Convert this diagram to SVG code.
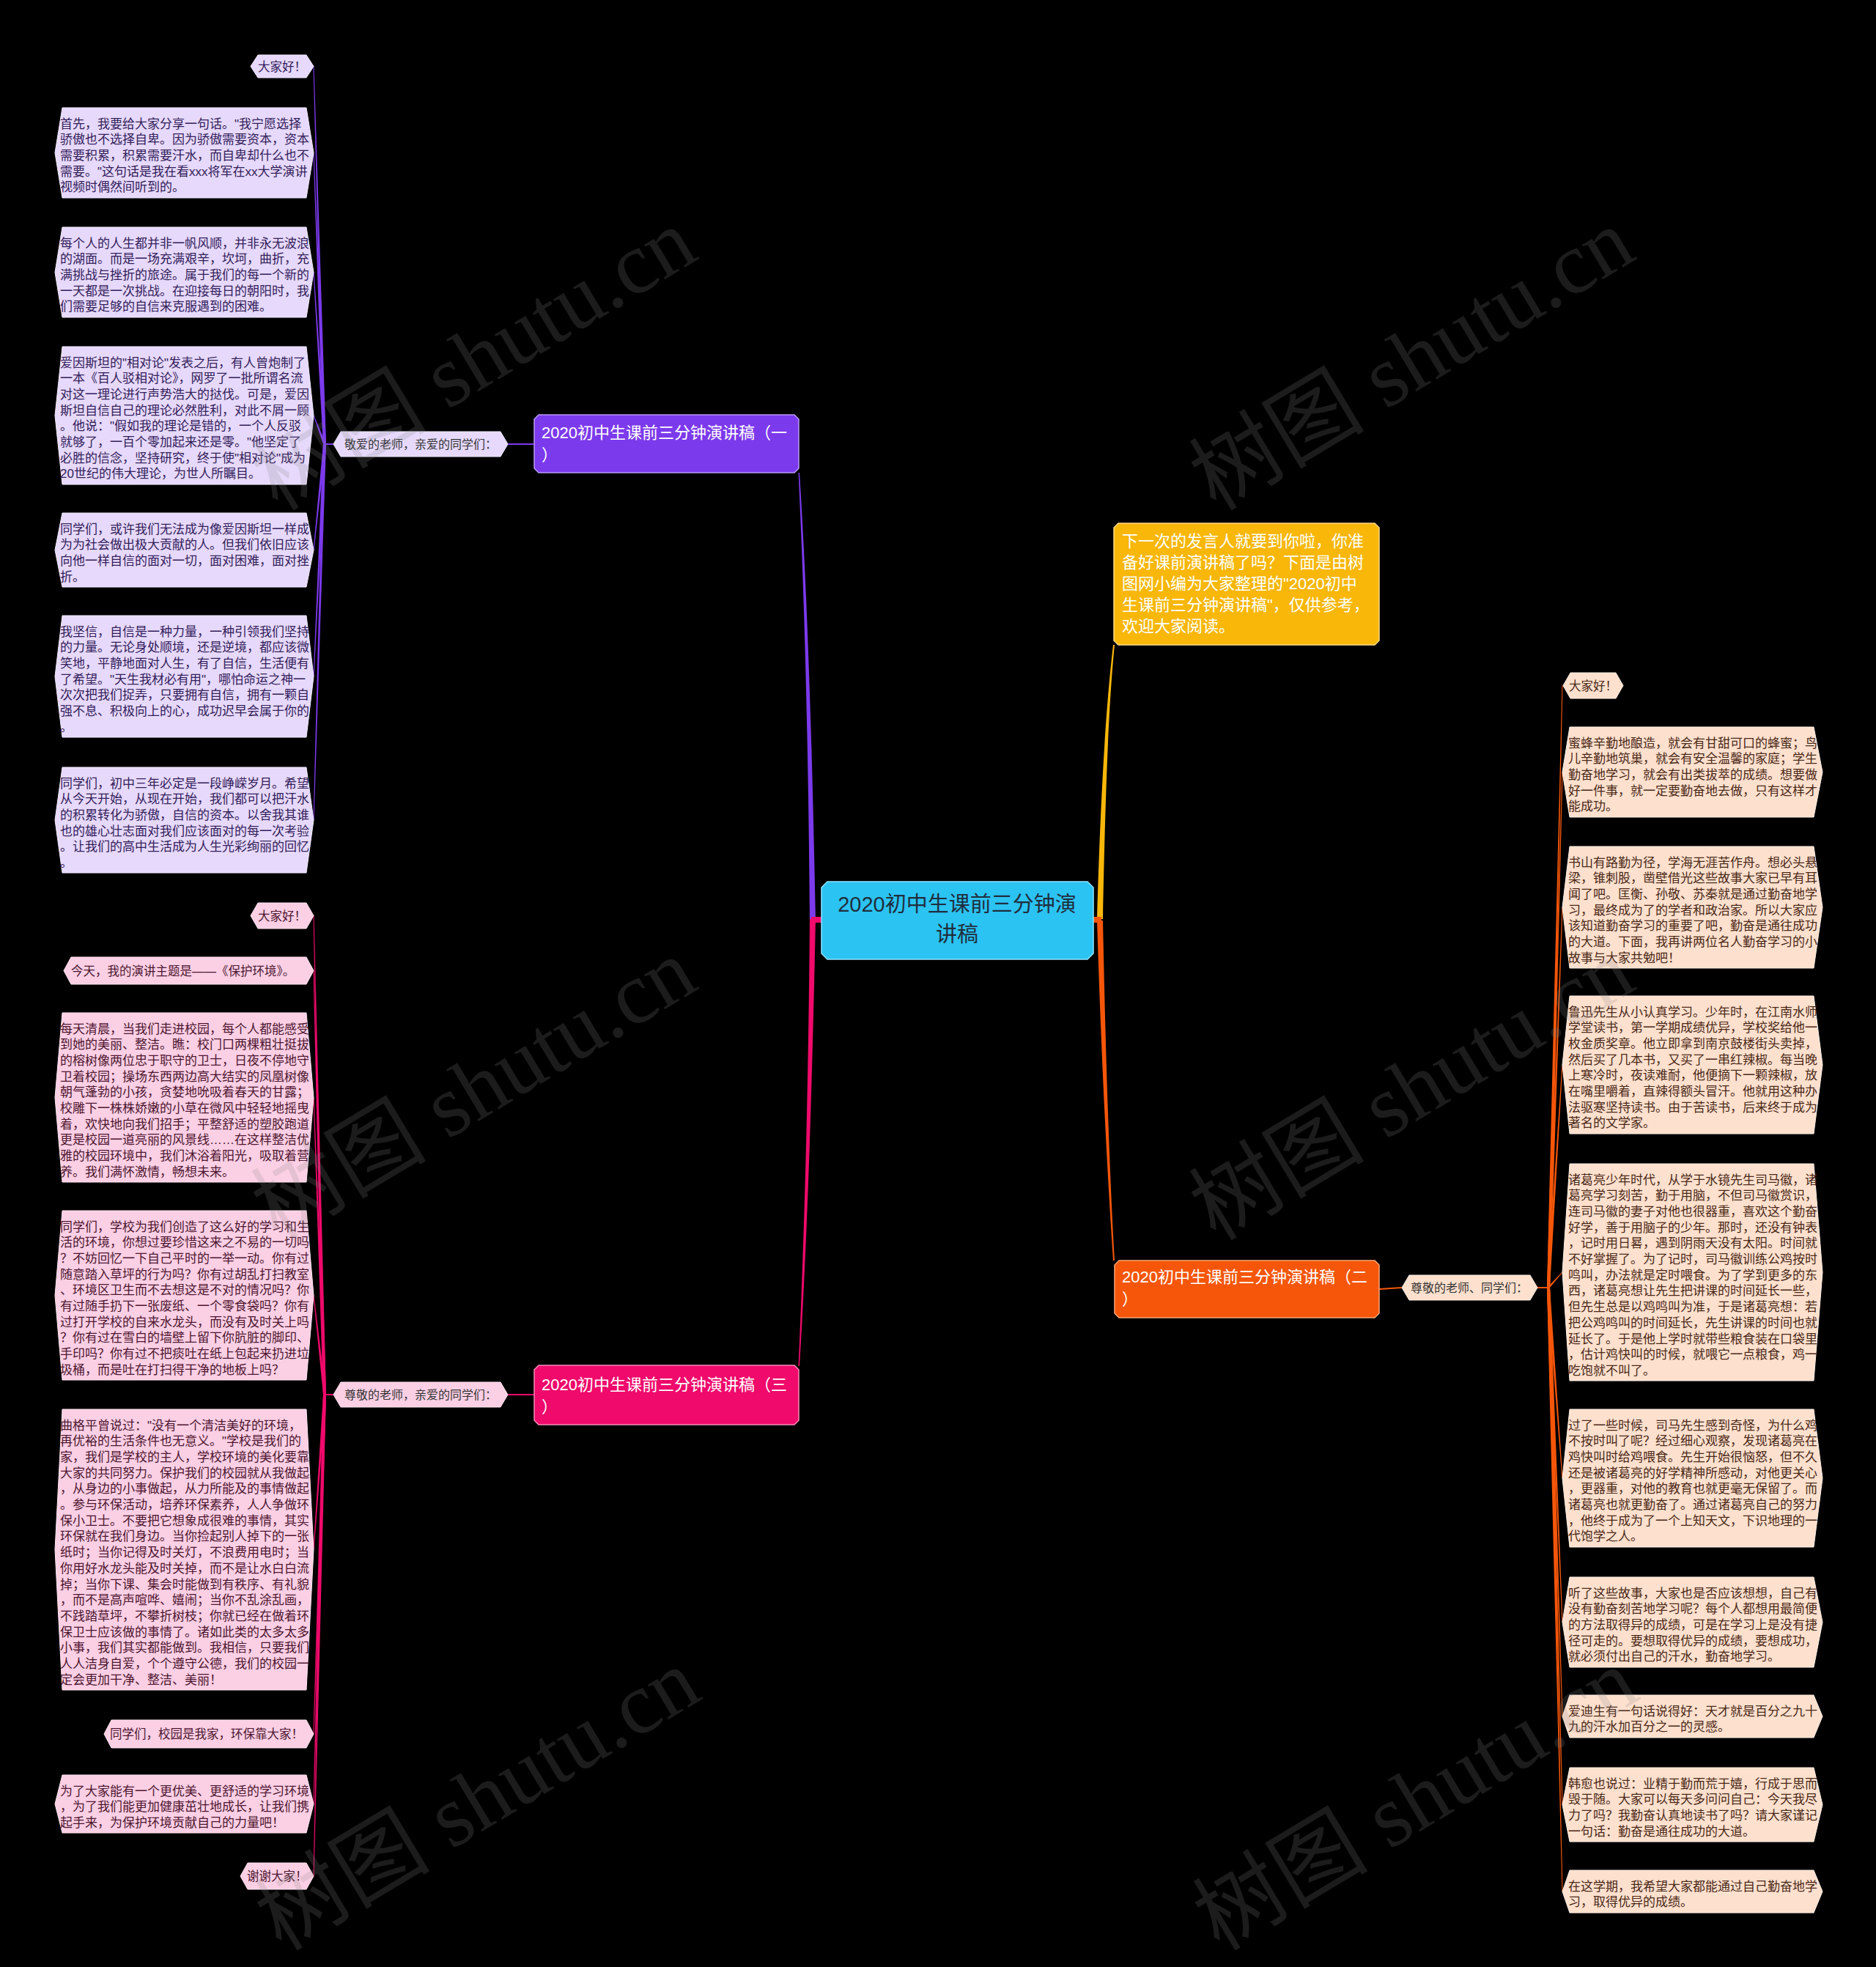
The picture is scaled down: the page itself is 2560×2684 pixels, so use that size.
<svg xmlns="http://www.w3.org/2000/svg" width="2560" height="2684" viewBox="0 0 2560 2684">
<style>
.tx{font-family:"Liberation Sans","Noto Sans CJK SC",sans-serif}
.lt{font-size:17px}
.ls{font-size:16.5px}
.c1{fill:#33205a}.c3{fill:#4d1630}.c2{fill:#4a2818}
.f1{fill:#e6d9fb;stroke:#f3ecff;stroke-width:1}
.f3{fill:#fbcfe4;stroke:#ffe6f1;stroke-width:1}
.f2{fill:#fde0cd;stroke:#fff0e6;stroke-width:1}
.wm{font-family:"Liberation Serif","Noto Sans CJK SC",serif;font-size:120px;fill:#8a8a8a;opacity:0.2}
.wt{fill:#ffffff;font-size:22px}
.sub{font-size:16px;fill:#333333}
</style>
<rect x="0" y="0" width="2560" height="2684" fill="#000000"/>

<g id="connectors">
<path d="M1105,1256 C1103,1000 1097,800 1089.5,645 L1091,645 C1101,800 1108,1000 1113,1256 Z" fill="#7c3aed"/>
<path d="M1105,1254 C1103,1500 1097,1700 1089.5,1864 L1091,1864 C1101,1700 1108,1500 1113,1254 Z" fill="#ef0a6b"/>
<path d="M1497,1254 C1503,1050 1511,950 1519,880 L1521,880 C1514,950 1509,1050 1505,1254 Z" fill="#f8b709"/>
<path d="M1497,1256 C1503,1450 1511,1600 1519,1720 L1521,1720 C1514,1600 1509,1450 1505,1256 Z" fill="#f5560a"/>
<rect x="1107" y="1251" width="15" height="8" fill="#ef0a6b"/>
<rect x="1491" y="1251" width="12" height="8" fill="#f5560a"/>
<line x1="693" y1="606" x2="729" y2="606" stroke="#7c3aed" stroke-width="2"/>
<line x1="693" y1="1903" x2="729" y2="1903" stroke="#ef0a6b" stroke-width="2"/>
<line x1="1882" y1="1759" x2="1913" y2="1757" stroke="#f5560a" stroke-width="2"/>
<g fill="#7c3aed">
<rect x="441" y="605" width="15" height="2"/>
<path d="M441,606 L427.5,90.5 L428.5,90.5 L445,606 Z"/>
<path d="M441,606 L427.5,208.5 L428.5,208.5 L445,606 Z"/>
<path d="M441,606 L427.5,371.5 L428.5,371.5 L445,606 Z"/>
<path d="M441,606 L427.5,567 L428.5,567 L445,606 Z"/>
<path d="M441,606 L427.5,750.5 L428.5,750.5 L445,606 Z"/>
<path d="M441,606 L427.5,923 L428.5,923 L445,606 Z"/>
<path d="M441,606 L427.5,1119 L428.5,1119 L445,606 Z"/>
</g>
<g fill="#ef0a6b">
<rect x="441" y="1902" width="15" height="2"/>
<path d="M441,1903 L427.5,1249.5 L428.5,1249.5 L445,1903 Z"/>
<path d="M441,1903 L427.5,1324.5 L428.5,1324.5 L445,1903 Z"/>
<path d="M441,1903 L427.5,1497.5 L428.5,1497.5 L445,1903 Z"/>
<path d="M441,1903 L427.5,1767.5 L428.5,1767.5 L445,1903 Z"/>
<path d="M441,1903 L427.5,2114.5 L428.5,2114.5 L445,1903 Z"/>
<path d="M441,1903 L427.5,2366 L428.5,2366 L445,1903 Z"/>
<path d="M441,1903 L427.5,2461.5 L428.5,2461.5 L445,1903 Z"/>
<path d="M441,1903 L427.5,2560 L428.5,2560 L445,1903 Z"/>
</g>
<g fill="#f5560a">
<rect x="2097" y="1756" width="17" height="2"/>
<path d="M2111,1757 L2131.5,935.5 L2132.5,935.5 L2115,1757 Z"/>
<path d="M2111,1757 L2131.5,1053.5 L2132.5,1053.5 L2115,1757 Z"/>
<path d="M2111,1757 L2131.5,1238 L2132.5,1238 L2115,1757 Z"/>
<path d="M2111,1757 L2131.5,1453 L2132.5,1453 L2115,1757 Z"/>
<path d="M2111,1757 L2131.5,1736 L2132.5,1736 L2115,1757 Z"/>
<path d="M2111,1757 L2131.5,2017 L2132.5,2017 L2115,1757 Z"/>
<path d="M2111,1757 L2131.5,2213.5 L2132.5,2213.5 L2115,1757 Z"/>
<path d="M2111,1757 L2131.5,2342 L2132.5,2342 L2115,1757 Z"/>
<path d="M2111,1757 L2131.5,2462.5 L2132.5,2462.5 L2115,1757 Z"/>
<path d="M2111,1757 L2131.5,2581 L2132.5,2581 L2115,1757 Z"/>
</g>
</g>

<g id="center">
<polygon points="1129,1203 1484,1203 1492,1211 1492,1301 1484,1309 1129,1309 1121,1301 1121,1211" fill="#2bc3f2" stroke="#8fe3ff" stroke-width="1.5"/>
<text class="tx" x="1306" y="1244" font-size="29" fill="#1f2d3d" text-anchor="middle">2020初中生课前三分钟演</text>
<text class="tx" x="1306" y="1285" font-size="29" fill="#1f2d3d" text-anchor="middle">讲稿</text>
</g>

<g id="intro">
<polygon points="1526,714 1876,714 1882,720 1882,874 1876,880 1526,880 1520,874 1520,720" fill="#f8b709" stroke="#ffd98a" stroke-width="1.5"/>
<text class="tx wt" x="1531" y="746"><tspan x="1531">下一次的发言人就要到你啦，你准</tspan><tspan x="1531" dy="29">备好课前演讲稿了吗？下面是由树</tspan><tspan x="1531" dy="29">图网小编为大家整理的"2020初中</tspan><tspan x="1531" dy="29">生课前三分钟演讲稿"，仅供参考，</tspan><tspan x="1531" dy="29">欢迎大家阅读。</tspan></text>
</g>

<g id="branch1">
<polygon points="735,566 1084,566 1090,572 1090,639 1084,645 735,645 729,639 729,572" fill="#7c3aed" stroke="#b99af5" stroke-width="1.5"/>
<text class="tx wt" x="739" y="598"><tspan x="739">2020初中生课前三分钟演讲稿（一</tspan><tspan x="739" dy="30">）</tspan></text>
</g>
<g id="branch1-sub">
<polygon points="455,606 465,589 683,589 693,606 683,623 465,623" class="f1"/>
<text class="tx sub" x="470" y="612">敬爱的老师，亲爱的同学们：</text>
</g>
<g id="b1-leaf1">
<polygon points="342,90.5 352,75 418,75 428,90.5 418,106 352,106" class="f1"/>
<text class="tx ls c1" x="352" y="96.5">大家好！</text>
</g>
<g id="b1-leaf2">
<polygon points="75,208.5 85,147 418,147 428,208.5 418,270 85,270" class="f1"/>
<text class="tx lt c1" y="174.5"><tspan x="82">首先，我要给大家分享一句话。"我宁愿选择</tspan><tspan x="82" dy="21.7">骄傲也不选择自卑。因为骄傲需要资本，资本</tspan><tspan x="82" dy="21.7">需要积累，积累需要汗水，而自卑却什么也不</tspan><tspan x="82" dy="21.7">需要。"这句话是我在看xxx将军在xx大学演讲</tspan><tspan x="82" dy="21.7">视频时偶然间听到的。</tspan></text>
</g>
<g id="b1-leaf3">
<polygon points="75,371.5 85,310 418,310 428,371.5 418,433 85,433" class="f1"/>
<text class="tx lt c1" y="337.5"><tspan x="82">每个人的人生都并非一帆风顺，并非永无波浪</tspan><tspan x="82" dy="21.7">的湖面。而是一场充满艰辛，坎坷，曲折，充</tspan><tspan x="82" dy="21.7">满挑战与挫折的旅途。属于我们的每一个新的</tspan><tspan x="82" dy="21.7">一天都是一次挑战。在迎接每日的朝阳时，我</tspan><tspan x="82" dy="21.7">们需要足够的自信来克服遇到的困难。</tspan></text>
</g>
<g id="b1-leaf4">
<polygon points="75,567 85,473 418,473 428,567 418,661 85,661" class="f1"/>
<text class="tx lt c1" y="500.5"><tspan x="82">爱因斯坦的"相对论"发表之后，有人曾炮制了</tspan><tspan x="82" dy="21.7">一本《百人驳相对论》，网罗了一批所谓名流</tspan><tspan x="82" dy="21.7">对这一理论进行声势浩大的挞伐。可是，爱因</tspan><tspan x="82" dy="21.7">斯坦自信自己的理论必然胜利，对此不屑一顾</tspan><tspan x="82" dy="21.7">。他说："假如我的理论是错的，一个人反驳</tspan><tspan x="82" dy="21.7">就够了，一百个零加起来还是零。"他坚定了</tspan><tspan x="82" dy="21.7">必胜的信念，坚持研究，终于使"相对论"成为</tspan><tspan x="82" dy="21.7">20世纪的伟大理论，为世人所瞩目。</tspan></text>
</g>
<g id="b1-leaf5">
<polygon points="75,750.5 85,700 418,700 428,750.5 418,801 85,801" class="f1"/>
<text class="tx lt c1" y="727.5"><tspan x="82">同学们，或许我们无法成为像爱因斯坦一样成</tspan><tspan x="82" dy="21.7">为为社会做出极大贡献的人。但我们依旧应该</tspan><tspan x="82" dy="21.7">向他一样自信的面对一切，面对困难，面对挫</tspan><tspan x="82" dy="21.7">折。</tspan></text>
</g>
<g id="b1-leaf6">
<polygon points="75,923 85,840 418,840 428,923 418,1006 85,1006" class="f1"/>
<text class="tx lt c1" y="867.5"><tspan x="82">我坚信，自信是一种力量，一种引领我们坚持</tspan><tspan x="82" dy="21.7">的力量。无论身处顺境，还是逆境，都应该微</tspan><tspan x="82" dy="21.7">笑地，平静地面对人生，有了自信，生活便有</tspan><tspan x="82" dy="21.7">了希望。"天生我材必有用"，哪怕命运之神一</tspan><tspan x="82" dy="21.7">次次把我们捉弄，只要拥有自信，拥有一颗自</tspan><tspan x="82" dy="21.7">强不息、积极向上的心，成功迟早会属于你的</tspan><tspan x="82" dy="21.7">。</tspan></text>
</g>
<g id="b1-leaf7">
<polygon points="75,1119 85,1047 418,1047 428,1119 418,1191 85,1191" class="f1"/>
<text class="tx lt c1" y="1074.5"><tspan x="82">同学们，初中三年必定是一段峥嵘岁月。希望</tspan><tspan x="82" dy="21.7">从今天开始，从现在开始，我们都可以把汗水</tspan><tspan x="82" dy="21.7">的积累转化为骄傲，自信的资本。以舍我其谁</tspan><tspan x="82" dy="21.7">也的雄心壮志面对我们应该面对的每一次考验</tspan><tspan x="82" dy="21.7">。让我们的高中生活成为人生光彩绚丽的回忆</tspan><tspan x="82" dy="21.7">。</tspan></text>
</g>

<g id="branch3">
<polygon points="735,1863 1084,1863 1090,1869 1090,1938 1084,1944 735,1944 729,1938 729,1869" fill="#ef0a6b" stroke="#f78ab8" stroke-width="1.5"/>
<text class="tx wt" x="739" y="1897"><tspan x="739">2020初中生课前三分钟演讲稿（三</tspan><tspan x="739" dy="30">）</tspan></text>
</g>
<g id="branch3-sub">
<polygon points="455,1903 465,1886 683,1886 693,1903 683,1920 465,1920" class="f3"/>
<text class="tx sub" x="470" y="1909">尊敬的老师，亲爱的同学们：</text>
</g>
<g id="b3-leaf1">
<polygon points="342,1249.5 352,1232 418,1232 428,1249.5 418,1267 352,1267" class="f3"/>
<text class="tx ls c3" x="352" y="1255.5">大家好！</text>
</g>
<g id="b3-leaf2">
<polygon points="87,1324.5 97,1306 418,1306 428,1324.5 418,1343 97,1343" class="f3"/>
<text class="tx ls c3" x="97" y="1330.5">今天，我的演讲主题是——《保护环境》。</text>
</g>
<g id="b3-leaf3">
<polygon points="75,1497.5 85,1382 418,1382 428,1497.5 418,1613 85,1613" class="f3"/>
<text class="tx lt c3" y="1409.5"><tspan x="82">每天清晨，当我们走进校园，每个人都能感受</tspan><tspan x="82" dy="21.7">到她的美丽、整洁。瞧：校门口两棵粗壮挺拔</tspan><tspan x="82" dy="21.7">的榕树像两位忠于职守的卫士，日夜不停地守</tspan><tspan x="82" dy="21.7">卫着校园；操场东西两边高大结实的凤凰树像</tspan><tspan x="82" dy="21.7">朝气蓬勃的小孩，贪婪地吮吸着春天的甘露；</tspan><tspan x="82" dy="21.7">校雕下一株株娇嫩的小草在微风中轻轻地摇曳</tspan><tspan x="82" dy="21.7">着，欢快地向我们招手；平整舒适的塑胶跑道</tspan><tspan x="82" dy="21.7">更是校园一道亮丽的风景线……在这样整洁优</tspan><tspan x="82" dy="21.7">雅的校园环境中，我们沐浴着阳光，吸取着营</tspan><tspan x="82" dy="21.7">养。我们满怀激情，畅想未来。</tspan></text>
</g>
<g id="b3-leaf4">
<polygon points="75,1767.5 85,1652 418,1652 428,1767.5 418,1883 85,1883" class="f3"/>
<text class="tx lt c3" y="1679.5"><tspan x="82">同学们，学校为我们创造了这么好的学习和生</tspan><tspan x="82" dy="21.7">活的环境，你想过要珍惜这来之不易的一切吗</tspan><tspan x="82" dy="21.7">？不妨回忆一下自己平时的一举一动。你有过</tspan><tspan x="82" dy="21.7">随意踏入草坪的行为吗？你有过胡乱打扫教室</tspan><tspan x="82" dy="21.7">、环境区卫生而不去想这是不对的情况吗？你</tspan><tspan x="82" dy="21.7">有过随手扔下一张废纸、一个零食袋吗？你有</tspan><tspan x="82" dy="21.7">过打开学校的自来水龙头，而没有及时关上吗</tspan><tspan x="82" dy="21.7">？你有过在雪白的墙壁上留下你肮脏的脚印、</tspan><tspan x="82" dy="21.7">手印吗？你有过不把痰吐在纸上包起来扔进垃</tspan><tspan x="82" dy="21.7">圾桶，而是吐在打扫得干净的地板上吗？</tspan></text>
</g>
<g id="b3-leaf5">
<polygon points="75,2114.5 85,1923 418,1923 428,2114.5 418,2306 85,2306" class="f3"/>
<text class="tx lt c3" y="1950.5"><tspan x="82">曲格平曾说过："没有一个清洁美好的环境，</tspan><tspan x="82" dy="21.7">再优裕的生活条件也无意义。"学校是我们的</tspan><tspan x="82" dy="21.7">家，我们是学校的主人，学校环境的美化要靠</tspan><tspan x="82" dy="21.7">大家的共同努力。保护我们的校园就从我做起</tspan><tspan x="82" dy="21.7">，从身边的小事做起，从力所能及的事情做起</tspan><tspan x="82" dy="21.7">。参与环保活动，培养环保素养，人人争做环</tspan><tspan x="82" dy="21.7">保小卫士。不要把它想象成很难的事情，其实</tspan><tspan x="82" dy="21.7">环保就在我们身边。当你捡起别人掉下的一张</tspan><tspan x="82" dy="21.7">纸时；当你记得及时关灯，不浪费用电时；当</tspan><tspan x="82" dy="21.7">你用好水龙头能及时关掉，而不是让水白白流</tspan><tspan x="82" dy="21.7">掉；当你下课、集会时能做到有秩序、有礼貌</tspan><tspan x="82" dy="21.7">，而不是高声喧哗、嬉闹；当你不乱涂乱画，</tspan><tspan x="82" dy="21.7">不践踏草坪，不攀折树枝；你就已经在做着环</tspan><tspan x="82" dy="21.7">保卫士应该做的事情了。诸如此类的太多太多</tspan><tspan x="82" dy="21.7">小事，我们其实都能做到。我相信，只要我们</tspan><tspan x="82" dy="21.7">人人洁身自爱，个个遵守公德，我们的校园一</tspan><tspan x="82" dy="21.7">定会更加干净、整洁、美丽！</tspan></text>
</g>
<g id="b3-leaf6">
<polygon points="142,2366 152,2347 418,2347 428,2366 418,2385 152,2385" class="f3"/>
<text class="tx ls c3" x="150" y="2372">同学们，校园是我家，环保靠大家！</text>
</g>
<g id="b3-leaf7">
<polygon points="75,2461.5 85,2422 418,2422 428,2461.5 418,2501 85,2501" class="f3"/>
<text class="tx lt c3" y="2449.5"><tspan x="82">为了大家能有一个更优美、更舒适的学习环境</tspan><tspan x="82" dy="21.7">，为了我们能更加健康茁壮地成长，让我们携</tspan><tspan x="82" dy="21.7">起手来，为保护环境贡献自己的力量吧！</tspan></text>
</g>
<g id="b3-leaf8">
<polygon points="328,2560 338,2542 418,2542 428,2560 418,2578 338,2578" class="f3"/>
<text class="tx ls c3" x="337" y="2566">谢谢大家！</text>
</g>

<g id="branch2">
<polygon points="1527,1720 1876,1720 1882,1726 1882,1792 1876,1798 1527,1798 1521,1792 1521,1726" fill="#f5560a" stroke="#fca778" stroke-width="1.5"/>
<text class="tx wt" x="1531" y="1750"><tspan x="1531">2020初中生课前三分钟演讲稿（二</tspan><tspan x="1531" dy="30">）</tspan></text>
</g>
<g id="branch2-sub">
<polygon points="1913,1757 1923,1740 2088,1740 2098,1757 2088,1774 1923,1774" class="f2"/>
<text class="tx sub" x="1925" y="1763">尊敬的老师、同学们：</text>
</g>
<g id="b2-leaf1">
<polygon points="2133,935.5 2143,918 2205,918 2215,935.5 2205,953 2143,953" class="f2"/>
<text class="tx ls c2" x="2141" y="941.5">大家好！</text>
</g>
<g id="b2-leaf2">
<polygon points="2132,1053.5 2142,992 2475,992 2487,1053.5 2475,1115 2142,1115" class="f2"/>
<text class="tx lt c2" y="1019.5"><tspan x="2140">蜜蜂辛勤地酿造，就会有甘甜可口的蜂蜜；鸟</tspan><tspan x="2140" dy="21.7">儿辛勤地筑巢，就会有安全温馨的家庭；学生</tspan><tspan x="2140" dy="21.7">勤奋地学习，就会有出类拔萃的成绩。想要做</tspan><tspan x="2140" dy="21.7">好一件事，就一定要勤奋地去做，只有这样才</tspan><tspan x="2140" dy="21.7">能成功。</tspan></text>
</g>
<g id="b2-leaf3">
<polygon points="2132,1238 2142,1155 2475,1155 2487,1238 2475,1321 2142,1321" class="f2"/>
<text class="tx lt c2" y="1182.5"><tspan x="2140">书山有路勤为径，学海无涯苦作舟。想必头悬</tspan><tspan x="2140" dy="21.7">梁，锥刺股，凿壁借光这些故事大家已早有耳</tspan><tspan x="2140" dy="21.7">闻了吧。匡衡、孙敬、苏秦就是通过勤奋地学</tspan><tspan x="2140" dy="21.7">习，最终成为了的学者和政治家。所以大家应</tspan><tspan x="2140" dy="21.7">该知道勤奋学习的重要了吧，勤奋是通往成功</tspan><tspan x="2140" dy="21.7">的大道。下面，我再讲两位名人勤奋学习的小</tspan><tspan x="2140" dy="21.7">故事与大家共勉吧！</tspan></text>
</g>
<g id="b2-leaf4">
<polygon points="2132,1453 2142,1359 2475,1359 2487,1453 2475,1547 2142,1547" class="f2"/>
<text class="tx lt c2" y="1386.5"><tspan x="2140">鲁迅先生从小认真学习。少年时，在江南水师</tspan><tspan x="2140" dy="21.7">学堂读书，第一学期成绩优异，学校奖给他一</tspan><tspan x="2140" dy="21.7">枚金质奖章。他立即拿到南京鼓楼街头卖掉，</tspan><tspan x="2140" dy="21.7">然后买了几本书，又买了一串红辣椒。每当晚</tspan><tspan x="2140" dy="21.7">上寒冷时，夜读难耐，他便摘下一颗辣椒，放</tspan><tspan x="2140" dy="21.7">在嘴里嚼着，直辣得额头冒汗。他就用这种办</tspan><tspan x="2140" dy="21.7">法驱寒坚持读书。由于苦读书，后来终于成为</tspan><tspan x="2140" dy="21.7">著名的文学家。</tspan></text>
</g>
<g id="b2-leaf5">
<polygon points="2132,1736 2142,1588 2475,1588 2487,1736 2475,1884 2142,1884" class="f2"/>
<text class="tx lt c2" y="1615.5"><tspan x="2140">诸葛亮少年时代，从学于水镜先生司马徽，诸</tspan><tspan x="2140" dy="21.7">葛亮学习刻苦，勤于用脑，不但司马徽赏识，</tspan><tspan x="2140" dy="21.7">连司马徽的妻子对他也很器重，喜欢这个勤奋</tspan><tspan x="2140" dy="21.7">好学，善于用脑子的少年。那时，还没有钟表</tspan><tspan x="2140" dy="21.7">，记时用日晷，遇到阴雨天没有太阳。时间就</tspan><tspan x="2140" dy="21.7">不好掌握了。为了记时，司马徽训练公鸡按时</tspan><tspan x="2140" dy="21.7">鸣叫，办法就是定时喂食。为了学到更多的东</tspan><tspan x="2140" dy="21.7">西，诸葛亮想让先生把讲课的时间延长一些，</tspan><tspan x="2140" dy="21.7">但先生总是以鸡鸣叫为准，于是诸葛亮想：若</tspan><tspan x="2140" dy="21.7">把公鸡鸣叫的时间延长，先生讲课的时间也就</tspan><tspan x="2140" dy="21.7">延长了。于是他上学时就带些粮食装在口袋里</tspan><tspan x="2140" dy="21.7">，估计鸡快叫的时候，就喂它一点粮食，鸡一</tspan><tspan x="2140" dy="21.7">吃饱就不叫了。</tspan></text>
</g>
<g id="b2-leaf6">
<polygon points="2132,2017 2142,1923 2475,1923 2487,2017 2475,2111 2142,2111" class="f2"/>
<text class="tx lt c2" y="1950.5"><tspan x="2140">过了一些时候，司马先生感到奇怪，为什么鸡</tspan><tspan x="2140" dy="21.7">不按时叫了呢？经过细心观察，发现诸葛亮在</tspan><tspan x="2140" dy="21.7">鸡快叫时给鸡喂食。先生开始很恼怒，但不久</tspan><tspan x="2140" dy="21.7">还是被诸葛亮的好学精神所感动，对他更关心</tspan><tspan x="2140" dy="21.7">，更器重，对他的教育也就更毫无保留了。而</tspan><tspan x="2140" dy="21.7">诸葛亮也就更勤奋了。通过诸葛亮自己的努力</tspan><tspan x="2140" dy="21.7">，他终于成为了一个上知天文，下识地理的一</tspan><tspan x="2140" dy="21.7">代饱学之人。</tspan></text>
</g>
<g id="b2-leaf7">
<polygon points="2132,2213.5 2142,2152 2475,2152 2487,2213.5 2475,2275 2142,2275" class="f2"/>
<text class="tx lt c2" y="2179.5"><tspan x="2140">听了这些故事，大家也是否应该想想，自己有</tspan><tspan x="2140" dy="21.7">没有勤奋刻苦地学习呢？每个人都想用最简便</tspan><tspan x="2140" dy="21.7">的方法取得异的成绩，可是在学习上是没有捷</tspan><tspan x="2140" dy="21.7">径可走的。要想取得优异的成绩，要想成功，</tspan><tspan x="2140" dy="21.7">就必须付出自己的汗水，勤奋地学习。</tspan></text>
</g>
<g id="b2-leaf8">
<polygon points="2132,2342 2142,2313 2475,2313 2487,2342 2475,2371 2142,2371" class="f2"/>
<text class="tx lt c2" y="2340.5"><tspan x="2140">爱迪生有一句话说得好：天才就是百分之九十</tspan><tspan x="2140" dy="21.7">九的汗水加百分之一的灵感。</tspan></text>
</g>
<g id="b2-leaf9">
<polygon points="2132,2462.5 2142,2412 2475,2412 2487,2462.5 2475,2513 2142,2513" class="f2"/>
<text class="tx lt c2" y="2439.5"><tspan x="2140">韩愈也说过：业精于勤而荒于嬉，行成于思而</tspan><tspan x="2140" dy="21.7">毁于随。大家可以每天多问问自己：今天我尽</tspan><tspan x="2140" dy="21.7">力了吗？我勤奋认真地读书了吗？请大家谨记</tspan><tspan x="2140" dy="21.7">一句话：勤奋是通往成功的大道。</tspan></text>
</g>
<g id="b2-leaf10">
<polygon points="2132,2581 2142,2552 2475,2552 2487,2581 2475,2610 2142,2610" class="f2"/>
<text class="tx lt c2" y="2579.5"><tspan x="2140">在这学期，我希望大家都能通过自己勤奋地学</tspan><tspan x="2140" dy="21.7">习，取得优异的成绩。</tspan></text>
</g>

<g id="watermarks">
<text class="wm" x="650" y="530" text-anchor="middle" transform="rotate(-31 650 496)">树图 shutu.cn</text>
<text class="wm" x="1930" y="530" text-anchor="middle" transform="rotate(-31 1930 496)">树图 shutu.cn</text>
<text class="wm" x="650" y="1526" text-anchor="middle" transform="rotate(-31 650 1492)">树图 shutu.cn</text>
<text class="wm" x="1930" y="1526" text-anchor="middle" transform="rotate(-31 1930 1492)">树图 shutu.cn</text>
<text class="wm" x="655" y="2495" text-anchor="middle" transform="rotate(-31 655 2461)">树图 shutu.cn</text>
<text class="wm" x="1935" y="2495" text-anchor="middle" transform="rotate(-31 1935 2461)">树图 shutu.cn</text>
</g>
</svg>
